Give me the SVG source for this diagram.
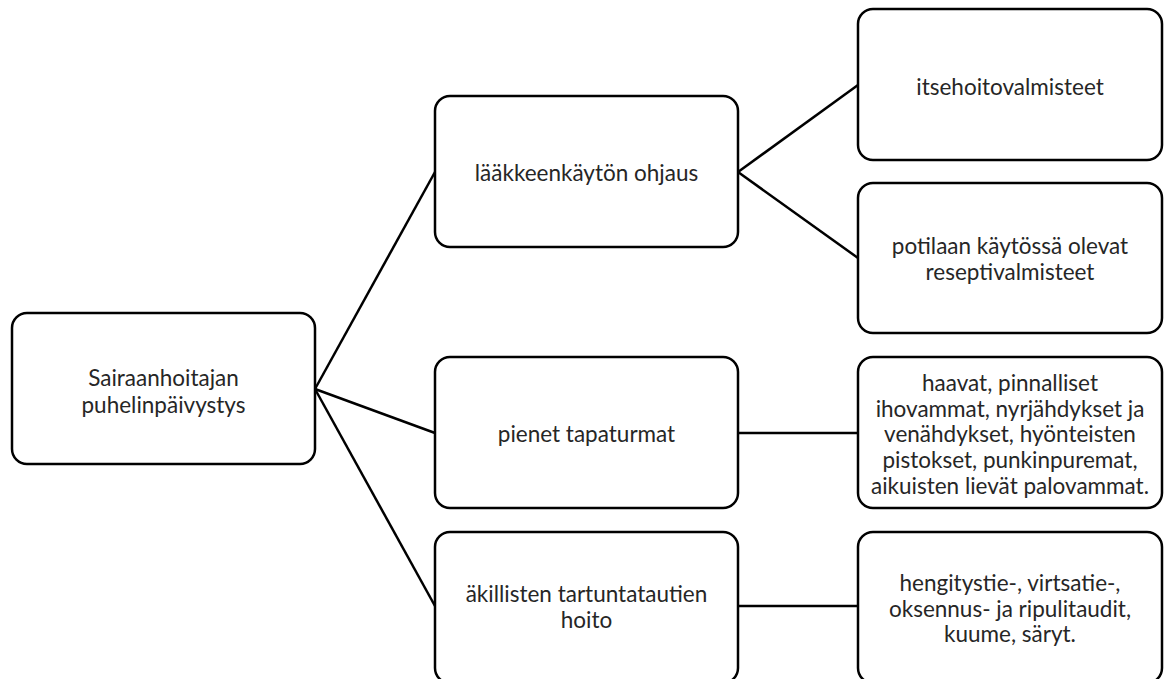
<svg xmlns="http://www.w3.org/2000/svg" width="1165" height="679" viewBox="0 0 1165 679">
<style>
.box{fill:#fff;stroke:#000;stroke-width:2.5}
.t{font-family:Lato,"Open Sans","Liberation Sans",sans-serif;font-size:22.5px;fill:#262626;text-anchor:middle;dominant-baseline:central}
.c{stroke:#000;stroke-width:2.5;fill:none}
</style>
<rect width="1165" height="679" fill="#fff"/>
<g id="connectors">
<line class="c" x1="315" y1="389" x2="435" y2="172"/>
<line class="c" x1="315" y1="389" x2="435" y2="433"/>
<line class="c" x1="315" y1="389" x2="435" y2="606"/>
<line class="c" x1="738" y1="172" x2="858" y2="85"/>
<line class="c" x1="738" y1="172" x2="858" y2="258"/>
<line class="c" x1="738" y1="433" x2="858" y2="433"/>
<line class="c" x1="738" y1="606" x2="858" y2="606"/>
</g>
<g id="root">
<rect class="box" x="12" y="313" width="303" height="151" rx="15"/>
<text class="t" x="163.5" y="377">Sairaanhoitajan</text>
<text class="t" x="163.5" y="404">puhelinpäivystys</text>
</g>
<g id="laakkeenkaytto">
<rect class="box" x="435" y="96" width="303" height="151" rx="15"/>
<text class="t" x="586.5" y="172">lääkkeenkäytön ohjaus</text>
</g>
<g id="itsehoito">
<rect class="box" x="858" y="9" width="304" height="151" rx="15"/>
<text class="t" x="1010" y="86">itsehoitovalmisteet</text>
</g>
<g id="resepti">
<rect class="box" x="858" y="183" width="304" height="150" rx="15"/>
<text class="t" x="1010" y="245">potilaan käytössä olevat</text>
<text class="t" x="1010" y="271">reseptivalmisteet</text>
</g>
<g id="tapaturmat">
<rect class="box" x="435" y="357" width="303" height="151" rx="15"/>
<text class="t" x="586.5" y="433">pienet tapaturmat</text>
</g>
<g id="tapaturmat-detail">
<rect class="box" x="858" y="357" width="304" height="151" rx="15"/>
<text class="t" x="1010" y="382">haavat, pinnalliset</text>
<text class="t" x="1010" y="408">ihovammat, nyrjähdykset ja</text>
<text class="t" x="1010" y="433">venähdykset, hyönteisten</text>
<text class="t" x="1010" y="459">pistokset, punkinpuremat,</text>
<text class="t" x="1010" y="485">aikuisten lievät palovammat.</text>
</g>
<g id="tartuntataudit">
<rect class="box" x="435" y="532" width="303" height="151" rx="15"/>
<text class="t" x="586.5" y="593">äkillisten tartuntatautien</text>
<text class="t" x="586.5" y="619">hoito</text>
</g>
<g id="tartuntataudit-detail">
<rect class="box" x="858" y="532" width="304" height="151" rx="15"/>
<text class="t" x="1010" y="582">hengitystie-, virtsatie-,</text>
<text class="t" x="1010" y="608">oksennus- ja ripulitaudit,</text>
<text class="t" x="1010" y="633">kuume, säryt.</text>
</g>
</svg>
